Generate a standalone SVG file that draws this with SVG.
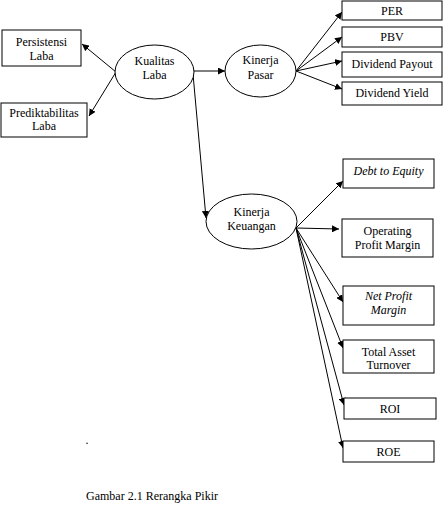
<svg xmlns="http://www.w3.org/2000/svg" width="444" height="516" viewBox="0 0 444 516">
<style>
.b{fill:#fff;stroke:#000;stroke-width:1}
.t{font-family:"Liberation Serif","Times New Roman",serif;font-size:12px;fill:#000;text-anchor:middle}
.i{font-style:italic}
.c{stroke:#000;stroke-width:1;fill:none;marker-end:url(#a)}
</style>
<defs>
<marker id="a" viewBox="0 0 10 10" refX="10" refY="5" markerWidth="7" markerHeight="7" markerUnits="userSpaceOnUse" orient="auto">
<path d="M0,0L10,5L0,10z" fill="#000"/>
</marker>
</defs>
<rect width="444" height="516" fill="#fff"/>
<g id="connectors">
<line class="c" x1="116" y1="72" x2="82" y2="44"/>
<line class="c" x1="116" y1="72" x2="89" y2="116"/>
<line class="c" x1="194" y1="71" x2="225" y2="71"/>
<line class="c" x1="193" y1="74" x2="206" y2="218"/>
<line class="c" x1="296" y1="71" x2="342" y2="12"/>
<line class="c" x1="296" y1="71" x2="342" y2="37"/>
<line class="c" x1="296" y1="71" x2="342" y2="61"/>
<line class="c" x1="296" y1="71" x2="342" y2="89"/>
<line class="c" x1="296" y1="228" x2="343" y2="181"/>
<line class="c" x1="296" y1="228" x2="339" y2="229"/>
<line class="c" x1="296" y1="228" x2="343" y2="302"/>
<line class="c" x1="296" y1="228" x2="343" y2="348"/>
<line class="c" x1="296" y1="228" x2="344" y2="405"/>
<line class="c" x1="296" y1="228" x2="343" y2="448"/>
</g>
<g id="persistensi"><rect class="b" x="2" y="30" width="79" height="36"/><text class="t" x="41.5" y="46">Persistensi</text><text class="t" x="41.5" y="60">Laba</text></g>
<g id="prediktabilitas"><rect class="b" x="1" y="103" width="86" height="34"/><text class="t" x="44" y="117">Prediktabilitas</text><text class="t" x="44" y="130">Laba</text></g>
<g id="kualitas"><ellipse class="b" cx="154.5" cy="72" rx="39.5" ry="27"/><text class="t" x="154.5" y="65">Kualitas</text><text class="t" x="154.5" y="79">Laba</text></g>
<g id="kinerja-pasar"><ellipse class="b" cx="260.5" cy="71" rx="35.5" ry="26"/><text class="t" x="260.5" y="64">Kinerja</text><text class="t" x="260.5" y="79">Pasar</text></g>
<g id="per"><rect class="b" x="342" y="1" width="100" height="19"/><text class="t" x="392" y="15">PER</text></g>
<g id="pbv"><rect class="b" x="342" y="27" width="100" height="20"/><text class="t" x="392" y="41">PBV</text></g>
<g id="dpr"><rect class="b" x="342" y="52" width="100" height="25"/><text class="t" x="392" y="68">Dividend Payout</text></g>
<g id="dy"><rect class="b" x="342" y="82" width="100" height="23"/><text class="t" x="392" y="97">Dividend Yield</text></g>
<g id="kinerja-keuangan"><ellipse class="b" cx="251.5" cy="221.5" rx="45.5" ry="27.5"/><text class="t" x="251.5" y="216">Kinerja</text><text class="t" x="251.5" y="230">Keuangan</text></g>
<g id="der"><rect class="b" x="343" y="159" width="91" height="29"/><text class="t i" x="388.5" y="175">Debt to Equity</text></g>
<g id="opm"><rect class="b" x="342" y="219" width="91" height="38"/><text class="t" x="387.5" y="235">Operating</text><text class="t" x="387.5" y="249">Profit Margin</text></g>
<g id="npm"><rect class="b" x="343" y="286" width="91" height="39"/><text class="t i" x="388.5" y="300">Net Profit</text><text class="t i" x="388.5" y="314">Margin</text></g>
<g id="tato"><rect class="b" x="343" y="340" width="91" height="33"/><text class="t" x="388.5" y="356">Total Asset</text><text class="t" x="388.5" y="369">Turnover</text></g>
<g id="roi"><rect class="b" x="344" y="398" width="92" height="21"/><text class="t" x="390" y="413">ROI</text></g>
<g id="roe"><rect class="b" x="343" y="441" width="91" height="21"/><text class="t" x="388.5" y="456">ROE</text></g>
<text class="t" x="87" y="444">.</text>
<text class="t" x="86" y="500" style="text-anchor:start">Gambar 2.1 Rerangka Pikir</text>
</svg>
